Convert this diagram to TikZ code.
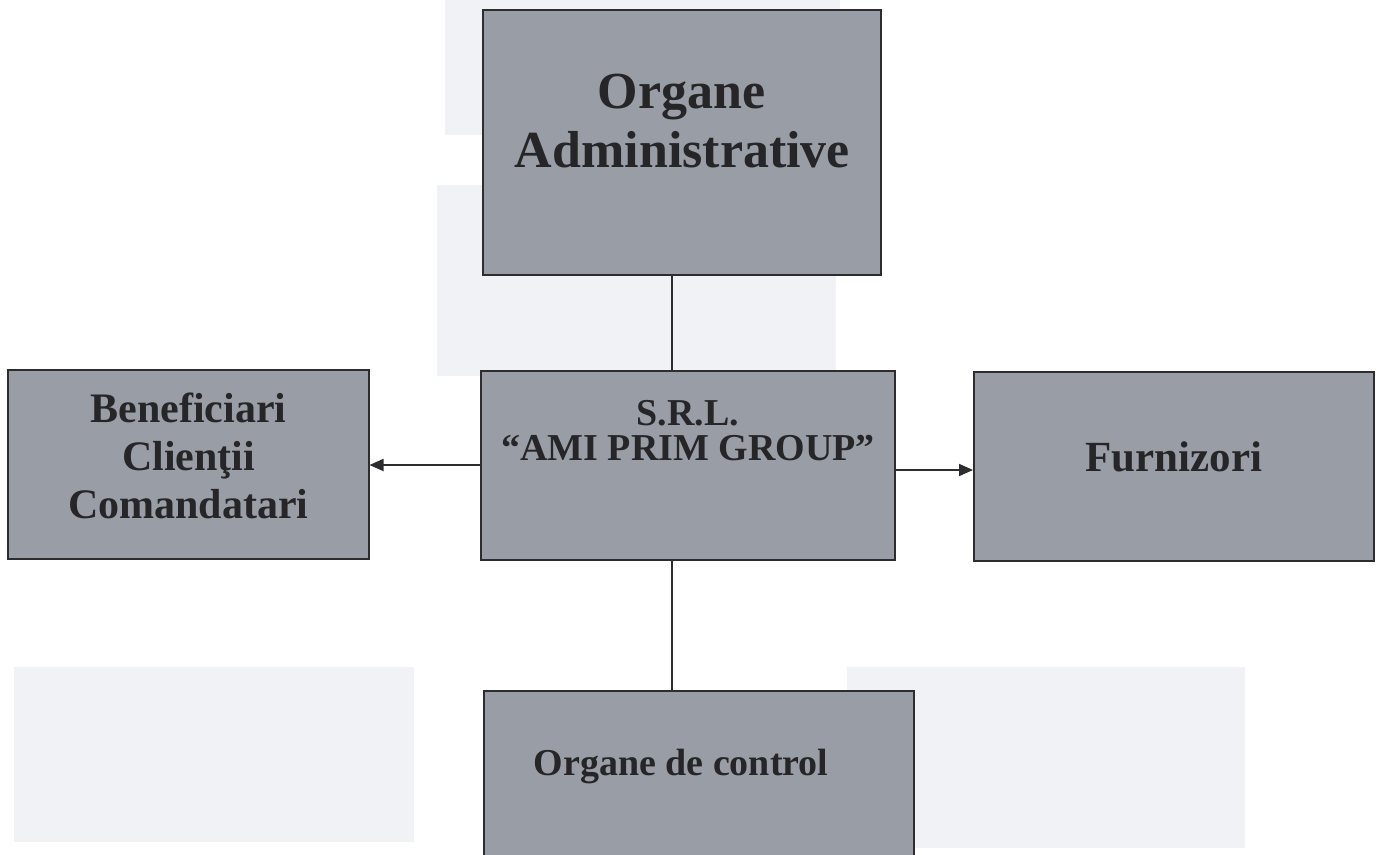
\documentclass[tikz,border=0pt]{standalone}
\usepackage{fontspec}
\setmainfont{Liberation Serif}
\usetikzlibrary{arrows.meta}
\definecolor{boxfill}{RGB}{153,158,166}
\definecolor{boxline}{RGB}{45,45,48}
\definecolor{txt}{RGB}{38,38,40}
\definecolor{ghost}{RGB}{240,242,245}
\tikzset{
  box/.style={draw=boxline, line width=2pt, fill=boxfill, rectangle, inner sep=0pt},
  lbl/.style={text=txt, font=\bfseries, anchor=base, inner sep=0pt},
  conn/.style={draw=boxline, line width=1.8pt},
  arr/.style={conn, -{Triangle[length=14pt,width=12pt]}},
  ghostbox/.style={fill=ghost, draw=none}
}
\begin{document}
\begin{tikzpicture}[x=1pt,y=-1pt]
\useasboundingbox (0,0) rectangle (1381,854);
\clip (0,0) rectangle (1381,854);
\fill[white] (0,0) rectangle (1381,854);
% faint bleed-through shapes
\fill[ghostbox] (445,0) rectangle (840,135);
\fill[ghostbox] (437,185) rectangle (836,376);
\fill[ghostbox] (14,667) rectangle (414,842);
\fill[ghostbox] (847,667) rectangle (1245,848);
% boxes
\node[box, minimum width=398pt, minimum height=265pt] (adm) at (681.5,142.5) {};
\node[box, minimum width=361pt, minimum height=189pt] (ben) at (188,464.5) {};
\node[box, minimum width=414pt, minimum height=189pt] (srl) at (688,465.5) {};
\node[box, minimum width=400pt, minimum height=189pt] (fur) at (1174,466.5) {};
\node[box, minimum width=430pt, minimum height=210pt] (ctl) at (699,796) {};
% texts
\node[lbl, font=\bfseries\fontsize{52}{60}\selectfont] (t1) at (681.5,108) {Organe};
\node[lbl, font=\bfseries\fontsize{52}{60}\selectfont] (t2) at (682.5,167) {Administrative};
\node[lbl, font=\bfseries\fontsize{42}{48}\selectfont] (b1) at (188.5,422) {Beneficiari};
\node[lbl, font=\bfseries\fontsize{42}{48}\selectfont] (b2) at (188.5,470) {Clienţii};
\node[lbl, font=\bfseries\fontsize{42}{48}\selectfont] (b3) at (188.5,518) {Comandatari};
\node[lbl, font=\bfseries\fontsize{38}{44}\selectfont] (s1) at (688,425) {S.R.L.};
\node[lbl, font=\bfseries\fontsize{38}{44}\selectfont] (s2) at (688,460) {“AMI PRIM GROUP”};
\node[lbl, font=\bfseries\fontsize{43}{48}\selectfont] (f1) at (1174,471) {Furnizori};
\node[lbl, font=\bfseries\fontsize{38}{44}\selectfont] (c1) at (681,775) {Organe de control};
% connectors
\coordinate (vx) at (672,0);
\coordinate (yl) at (0,465);
\coordinate (yr) at (0,470);
\draw[conn] (adm.south -| vx) -- (srl.north -| vx);
\draw[conn] (srl.south -| vx) -- (ctl.north -| vx);
\draw[arr] (srl.west |- yl) -- (ben.east |- yl);
\draw[arr] (srl.east |- yr) -- (fur.west |- yr);
\end{tikzpicture}
\end{document}
